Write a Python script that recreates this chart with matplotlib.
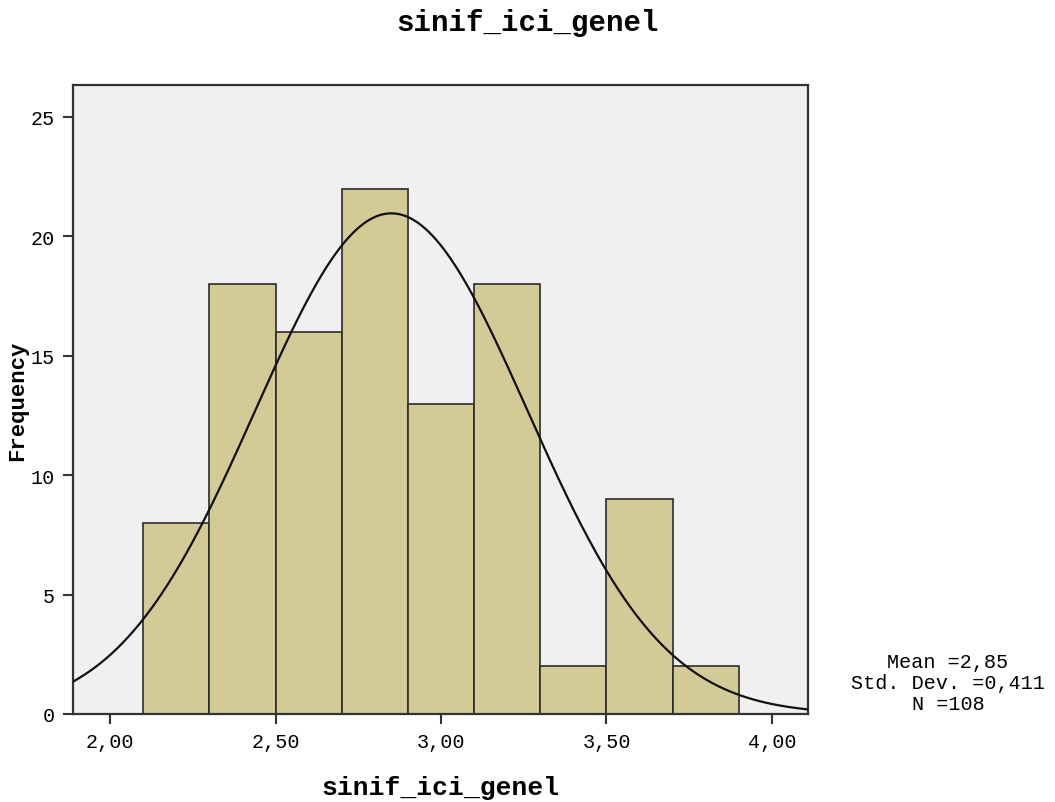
import numpy as np
import matplotlib
matplotlib.use("Agg")
import matplotlib.pyplot as plt

# Data
bin_edges = [2.1, 2.3, 2.5, 2.7, 2.9, 3.1, 3.3, 3.5, 3.7, 3.9]
counts = [8, 18, 16, 22, 13, 18, 2, 9, 2]
mean_val = 2.85
std_val = 0.411
n_val = 108
x_ticks = [2.0, 2.5, 3.0, 3.5, 4.0]
x_tick_labels = ["2,00", "2,50", "3,00", "3,50", "4,00"]
y_ticks = [0, 5, 10, 15, 20, 25]
title = "sinif_ici_genel"
x_label = "sinif_ici_genel"
y_label = "Frequency"
stats_lines = ["Mean =2,85", "Std. Dev. =0,411", "N =108"]

mono = "Liberation Mono"

fig = plt.figure(figsize=(10.55, 8.03), dpi=100)
fig.patch.set_facecolor("white")
ax = fig.add_axes([73/1055, 1 - 715/803, (808-73)/1055, (715-86)/803])
ax.set_facecolor("#F0F0F0")

widths = np.diff(bin_edges)
ax.bar(bin_edges[:-1], counts, width=widths, align="edge",
       color="#D3CB96", edgecolor="#2b2b2b", linewidth=1.2, zorder=2)

xlim = (1.888, 4.109)
xs = np.linspace(xlim[0], xlim[1], 400)
bw = bin_edges[1] - bin_edges[0]
ys = n_val * bw / (std_val * np.sqrt(2 * np.pi)) * np.exp(-0.5 * ((xs - mean_val) / std_val) ** 2)
ax.plot(xs, ys, color="#111111", linewidth=1.6, zorder=3)

ax.set_xlim(*xlim)
ax.set_ylim(0, 26.34)
ax.set_xticks(x_ticks)
ax.set_xticklabels(x_tick_labels, fontfamily=mono, fontsize=14.5)
ax.set_yticks(y_ticks)
ax.set_yticklabels([str(v) for v in y_ticks], fontfamily=mono, fontsize=14.5)
ax.tick_params(direction="out", length=7, width=1.5, color="#333333", pad=6)
for sp in ax.spines.values():
    sp.set_color("#333333")
    sp.set_linewidth(1.6)

ax.set_xlabel(x_label, fontfamily=mono, fontsize=19, fontweight="bold", labelpad=17)
ax.set_ylabel(y_label, fontfamily=mono, fontsize=16, fontweight="bold", labelpad=2)

fig.text(0.5, 1 - 23/803, title, ha="center", va="center",
         fontfamily=mono, fontsize=21, fontweight="bold")

for i, line in enumerate(stats_lines):
    fig.text(948/1055, 1 - (663 + i*21)/803, line, ha="center", va="center",
             fontfamily=mono, fontsize=14.5)

fig.savefig("out.png", dpi=100)
